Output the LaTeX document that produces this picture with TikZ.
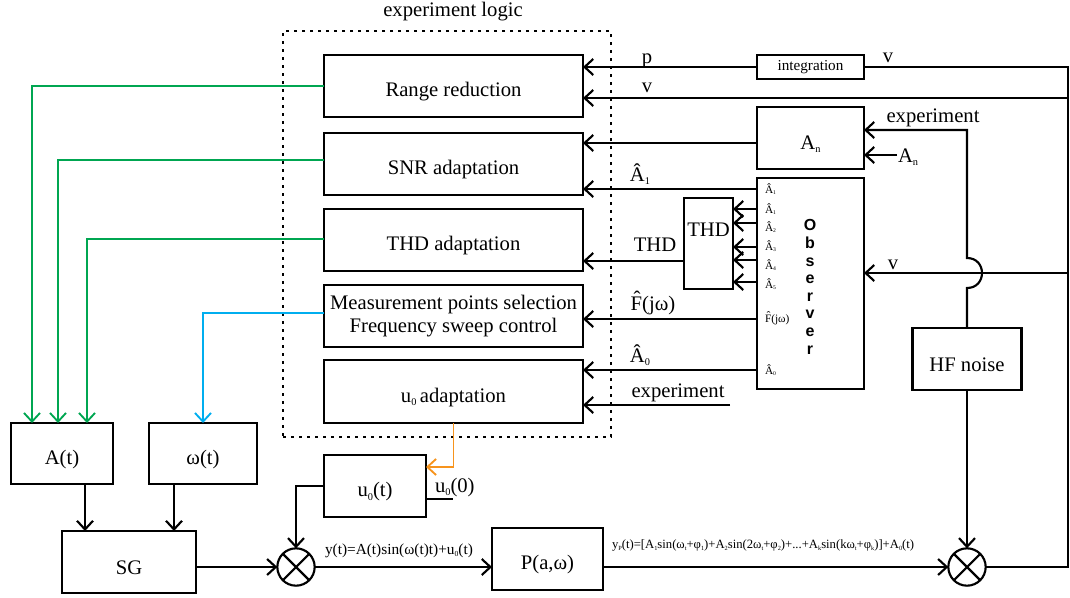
\documentclass[tikz,border=0pt]{standalone}
\usepackage{fontspec}
\usepackage{graphicx}
\setmainfont{Liberation Serif}
\newfontfamily\obsfont{Liberation Sans}
\usetikzlibrary{arrows.meta}
\definecolor{ctlgreen}{RGB}{0,166,81}
\definecolor{ctlblue}{RGB}{0,174,239}
\definecolor{ctlorange}{RGB}{247,148,29}
% tiny lowered index, as used for A_n, u_0, ...
\newcommand\lo[1]{\raisebox{-0.35ex}{\scalebox{0.5}{#1}}}
\newcommand\setfs[1]{\fontsize{#1}{#1}\selectfont}
% text set a little lower inside its box, box size unchanged
\newcommand\lowered[1]{\raisebox{-4.5pt}[\height][\depth]{#1}}

\begin{document}
\begin{tikzpicture}[x=0.75pt,y=-0.75pt,
  every node/.style={inner sep=0pt, outer sep=0pt},
  blk/.style={draw, line width=1.6pt, font=\setfs{15.5}},
  wire/.style={line width=1.6pt},
  arr/.style={wire, -{Straight Barb[length=6.5pt,width=12pt]}},
  gwire/.style={arr, draw=ctlgreen, line width=1.4pt},
  bwire/.style={arr, draw=ctlblue, line width=1.4pt},
  owire/.style={arr, draw=ctlorange, line width=1.4pt},
  lbl/.style={font=\setfs{15.5}},
  small/.style={font=\setfs{8.5}},
  mult/.style={draw, circle, line width=1.6pt, minimum size=28pt},
]
\useasboundingbox (0,0) rectangle (1070,597);

% ---------- experiment logic frame ----------
\node[draw, line width=1.3pt, dash pattern=on 2.5pt off 3.5pt,
      minimum width=246pt, minimum height=304.5pt] (logic) at (447,234) {};
\node[lbl, anchor=base] (logicT) at (453,16) {experiment logic};

% ---------- adaptation blocks ----------
\node[blk, minimum width=194.25pt, minimum height=46.5pt] (Range) at (453.5,86) {\lowered{Range reduction}};
\node[blk, minimum width=194.25pt, minimum height=46.5pt] (SNR) at (453.5,164) {\lowered{SNR adaptation}};
\node[blk, minimum width=194.25pt, minimum height=46.5pt] (THDa) at (453.5,240) {\lowered{THD adaptation}};
\node[blk, minimum width=194.25pt, minimum height=46.5pt, align=center,
      font=\fontsize{15.5}{17.25}\selectfont] (Meas) at (453.5,316)
      {Measurement points selection\\Frequency sweep control};
\node[blk, minimum width=194.25pt, minimum height=47.25pt] (u0a) at (453.5,391.5) {\lowered{u\lo{0}\,adaptation}};

% ---------- signal generation ----------
\node[blk, minimum width=76.5pt, minimum height=45.75pt] (At) at (62,453.5) {\lowered{A(t)}};
\node[blk, minimum width=81pt, minimum height=45.75pt] (wt) at (203,453.5) {\lowered{ω(t)}};
\node[blk, minimum width=100.5pt, minimum height=46.5pt] (SG) at (129,562) {\lowered{SG}};
\node[blk, minimum width=76.5pt, minimum height=46.5pt] (u0t) at (375,486) {\lowered{u\lo{0}(t)}};
\node[mult] (m1) at (296,567) {};
\draw[wire] (m1.north west) -- (m1.south east) (m1.north east) -- (m1.south west);
\node[blk, minimum width=83.25pt, minimum height=46.5pt] (P) at (547.5,559) {\lowered{P(a,ω)}};
\node[mult] (m2) at (967,567) {};
\draw[wire] (m2.north west) -- (m2.south east) (m2.north east) -- (m2.south west);

% ---------- observation side ----------
\node[blk, minimum width=80.25pt, minimum height=18pt, font=\setfs{11.4}] (integ) at (810.5,67) {integration};
\node[blk, minimum width=80.25pt, minimum height=46.5pt] (An) at (810.5,138) {\lowered{A\lo{n}}};
\node[blk, minimum width=80.25pt, minimum height=158.25pt] (Obs) at (810.5,283.5) {};
\node[align=center, font=\obsfont\bfseries\fontsize{12}{13.2}\selectfont] (ObsT) at (810,287)
      {O\\b\\s\\e\\r\\v\\e\\r};
\node[draw, line width=1.6pt, minimum width=36.75pt, minimum height=68.25pt] (THDb) at (708.5,243.5) {};
\node[lbl] (THDbT) at (708.5,230) {THD};
\node[blk, minimum width=81.75pt, minimum height=46.5pt] (HF) at (967,359) {\lowered{HF noise}};

% observer output names
\node[small, anchor=base west] (o1) at (765,193) {\^{A}\lo{1}};
\node[small, anchor=base west] (o2) at (765,213) {\^{A}\lo{1}};
\node[small, anchor=base west] (o3) at (765,231) {\^{A}\lo{2}};
\node[small, anchor=base west] (o4) at (765,250) {\^{A}\lo{3}};
\node[small, anchor=base west] (o5) at (765,269) {\^{A}\lo{4}};
\node[small, anchor=base west] (o6) at (765,288) {\^{A}\lo{5}};
\node[small, anchor=base west] (o7) at (765,322) {\^{F}(jω)};
\node[small, anchor=base west] (o8) at (765,374) {\^{A}\lo{0}};

% ---------- connectors: right rail and v / p feedback ----------
\coordinate (railTop) at (1068,67);
\coordinate (tapV1) at (1068,98);
\coordinate (tapV2) at (1068,273);
\draw[wire] (m2.east) -- (m2.east -| railTop) -- (railTop) -- (integ.east);
\draw[arr] (integ.west) -- (integ.west -| Range.east);
\draw[arr] (tapV1) -- (tapV1 -| Range.east);
\draw[arr] (tapV2) -- (tapV2 -| Obs.east);
\node[lbl, anchor=base] (pT) at (647,63) {p};
\node[lbl, anchor=base] (vT1) at (647,92) {v};
\node[lbl, anchor=base] (vT2) at (888,62) {v};
\node[lbl, anchor=base] (vT3) at (893,269) {v};

% ---------- A_n block ----------
\draw[arr] ([yshift=-3.75pt]An.west) coordinate (anOut) -- (anOut -| SNR.east);
\coordinate (anIn) at (897,155);
\draw[arr] (anIn) -- (anIn -| An.east);
\node[lbl, anchor=base west] (anInT) at (898,162) {A\lo{n}};
\coordinate (expCorner) at (967,130);
\coordinate (humpLo) at (967,288);
\coordinate (humpHi) at (967,258);
\draw[arr] (HF.north) -- (humpLo) .. controls (987,288) and (987,258) .. (humpHi)
      -- (expCorner) -- (expCorner -| An.east);
\node[lbl, anchor=base] (expT1) at (933,122) {experiment};
\draw[arr] (HF.south) -- (m2.north);

% ---------- observer outputs ----------
\draw[arr] (Obs.west |- 0,189) -- (SNR.east |- 0,189);
\node[lbl, anchor=base] (a1T) at (640,181) {\^{A}\lo{1}};
\foreach \yy in {209,223,247,260,282}
  \draw[arr] (Obs.west |- 0,\yy) -- (THDb.east |- 0,\yy);
\draw[arr] (THDb.west |- 0,261) -- (THDa.east |- 0,261);
\node[lbl, anchor=base] (thdT) at (655,251) {THD};
\draw[arr] (Obs.west |- 0,319) -- (Meas.east |- 0,319);
\node[lbl, anchor=base] (fT) at (653,310) {\^{F}(jω)};
\draw[arr] (Obs.west |- 0,370) -- (u0a.east |- 0,370);
\node[lbl, anchor=base] (a0T) at (640,362) {\^{A}\lo{0}};
\coordinate (expIn) at (730,405);
\draw[arr] (expIn) -- (expIn -| u0a.east);
\node[lbl, anchor=base] (expT2) at (678,397) {experiment};

% ---------- adaptation outputs ----------
\draw[gwire] (Range.west) -| ([xshift=-22.5pt]At.north);
\draw[gwire] ([yshift=3pt]SNR.west) -| ([xshift=-3pt]At.north);
\draw[gwire] ([yshift=0.75pt]THDa.west) -| ([xshift=18.75pt]At.north);
\draw[bwire] ([yshift=2.25pt]Meas.west) -| (wt.north);
\draw[owire] (u0a.south) |- ([yshift=14.25pt]u0t.east);

% ---------- signal path ----------
\draw[arr] ([xshift=17.25pt]At.south) -- ([xshift=17.25pt]At.south |- SG.north);
\draw[arr] ([xshift=-21.75pt]wt.south) -- ([xshift=-21.75pt]wt.south |- SG.north);
\draw[arr] (SG.east |- m1.west) -- (m1.west);
\draw[arr] (u0t.west) -| (m1.north);
\draw[wire] ([yshift=-9.75pt]u0t.east) -- ++(20.25pt,0) coordinate (u0z);
\node[lbl, anchor=base west] (u0zT) at (435,492) {u\lo{0}(0)};
\draw[arr] (m1.east) -- (m1.east -| P.west);
\node[anchor=base west, font=\setfs{11.5}] (yT) at (325,554) {y(t)=A(t)sin(ω(t)t)+u\lo{0}(t)};
\draw[arr] (P.east |- m2.west) -- (m2.west);
\node[anchor=base west, font=\setfs{9.5}] (ypT) at (612,548)
  {y\lo{P}(t)=[A\lo{1}sin(ω\lo{t}+φ\lo{1})+A\lo{2}sin(2ω\lo{t}+φ\lo{2})+...+A\lo{k}sin(kω\lo{t}+φ\lo{k})]+A\lo{0}(t)};
\end{tikzpicture}
\end{document}
